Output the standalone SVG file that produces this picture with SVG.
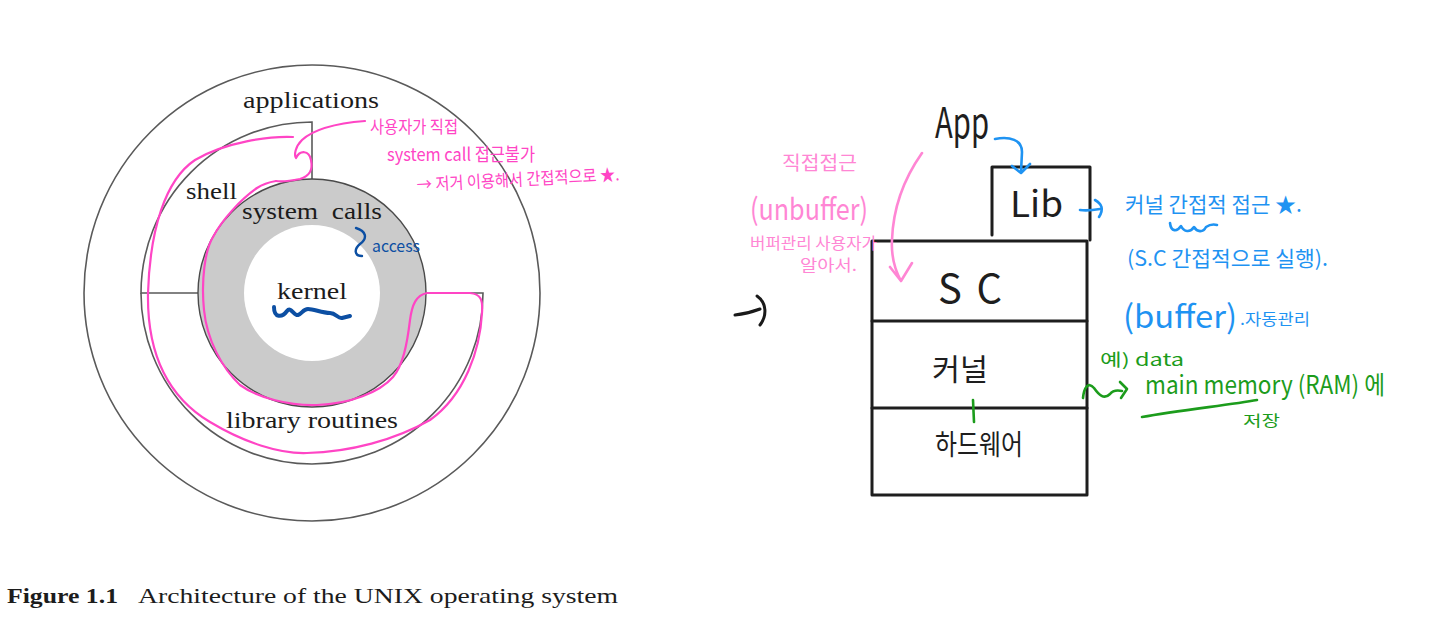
<svg xmlns="http://www.w3.org/2000/svg" width="1448" height="639" viewBox="0 0 1448 639">
<style>
.ring{fill:none;stroke:#5a5a5a;stroke-width:1.6}
.serif{font-family:"Liberation Serif","DejaVu Serif",serif;fill:#1c1c1c}
.hand{font-family:"Noto Sans CJK KR","Noto Sans",sans-serif}
.box{fill:none;stroke:#1e1e1e;stroke-width:3;stroke-linecap:round;stroke-linejoin:round}
.pk{fill:none;stroke:#ff45c5;stroke-width:2.2;stroke-linecap:round;stroke-linejoin:round}
.pkl{fill:none;stroke:#ff86d4;stroke-width:2.6;stroke-linecap:round;stroke-linejoin:round}
.bl{fill:none;stroke:#1f93f2;stroke-width:2.6;stroke-linecap:round;stroke-linejoin:round}
.db{fill:none;stroke:#0c4fa3;stroke-width:2.4;stroke-linecap:round;stroke-linejoin:round}
.thick{stroke-width:4}
.gr{fill:none;stroke:#1c9c1c;stroke-width:2.6;stroke-linecap:round;stroke-linejoin:round}
.bk{fill:none;stroke:#1a1a1a;stroke-width:3;stroke-linecap:round;stroke-linejoin:round}
.tpk{fill:#ff45c5}
.tpkl{fill:#ff86d4}
.tbl{fill:#1f93f2}
.tdb{fill:#0c4fa3}
.tgr{fill:#1c9c1c}
.tbk{fill:#1e1e1e}
</style>

<!-- UNIX architecture figure -->
<g id="applications">
  <circle cx="312" cy="293" r="228" class="ring"/>
  <text x="243" y="108" font-size="24" class="serif" textLength="136" lengthAdjust="spacingAndGlyphs">applications</text>
</g>
<g id="shell">
  <path d="M312,179 V122 A171,171 0 0 0 141,293 H198" class="ring"/>
  <text x="186" y="199" font-size="24" class="serif" textLength="51" lengthAdjust="spacingAndGlyphs">shell</text>
</g>
<g id="library-routines">
  <path d="M141,293 A171,171 0 0 0 483,293 H426" class="ring"/>
  <text x="226" y="428" font-size="24" class="serif" textLength="172" lengthAdjust="spacingAndGlyphs">library routines</text>
</g>
<g id="system-calls">
  <circle cx="312" cy="293" r="114" fill="#cbcbcb" stroke="#4a4a4a" stroke-width="1.4"/>
  <text x="242" y="219" font-size="24" class="serif" textLength="140" lengthAdjust="spacingAndGlyphs" xml:space="preserve">system  calls</text>
</g>
<g id="kernel">
  <circle cx="312" cy="293" r="68" fill="#ffffff"/>
  <text x="277" y="299" font-size="24" class="serif" textLength="70" lengthAdjust="spacingAndGlyphs">kernel</text>
</g>
<g id="caption">
  <text x="7" y="603" font-size="22" class="serif" font-weight="bold" textLength="111" lengthAdjust="spacingAndGlyphs">Figure 1.1</text>
  <text x="138" y="603" font-size="22" class="serif" textLength="480" lengthAdjust="spacingAndGlyphs">Architecture of the UNIX operating system</text>
</g>

<!-- Layer stack -->
<g id="stack-app">
  <text x="935" y="138" font-size="42" class="hand tbk" textLength="54" lengthAdjust="spacingAndGlyphs">App</text>
</g>
<g id="stack-lib">
  <path d="M992,235 V167 H1090 V240" class="box"/>
  <text x="1010" y="217" font-size="36" class="hand tbk" textLength="53" lengthAdjust="spacingAndGlyphs">Lib</text>
</g>
<g id="stack-sc">
  <path d="M872,241 H1087 V321 H872 Z" class="box"/>
  <text x="938" y="303" font-size="40" class="hand tbk" textLength="64" lengthAdjust="spacing">S C</text>
</g>
<g id="stack-kernel">
  <path d="M872,321 V408 H1087 V321" class="box"/>
  <text x="932" y="380" font-size="30" class="hand tbk" textLength="56" lengthAdjust="spacingAndGlyphs">커널</text>
</g>
<g id="stack-hardware">
  <path d="M872,408 V495 H1087 V408" class="box"/>
  <text x="935" y="455" font-size="28" class="hand tbk" textLength="88" lengthAdjust="spacingAndGlyphs">하드웨어</text>
</g>

<!-- Annotations -->
<g id="note-direct">
  <text x="370" y="133" font-size="17" class="hand tpk" textLength="88" lengthAdjust="spacingAndGlyphs">사용자가 직접</text>
  <text x="387" y="161" font-size="18" class="hand tpk" textLength="148" lengthAdjust="spacingAndGlyphs">system call 접근불가</text>
  <text x="417" y="191" font-size="17" class="hand tpk" textLength="203" lengthAdjust="spacingAndGlyphs" transform="rotate(-3 417 191)">→ 저거 이용해서 간접적으로 ★.</text>
</g>
<g id="note-unbuffer">
  <text x="782" y="170" font-size="19" class="hand tpkl" textLength="75" lengthAdjust="spacingAndGlyphs">직접접근</text>
  <text x="750" y="220" font-size="30" class="hand tpkl" textLength="118" lengthAdjust="spacingAndGlyphs">(unbuffer)</text>
  <text x="750" y="249" font-size="16" class="hand tpkl" textLength="127" lengthAdjust="spacingAndGlyphs">버퍼관리 사용자가</text>
  <text x="800" y="271" font-size="16" class="hand tpkl" textLength="57" lengthAdjust="spacingAndGlyphs">알아서.</text>
</g>
<g id="note-indirect">
  <text x="1125" y="212" font-size="21" class="hand tbl" textLength="177" lengthAdjust="spacingAndGlyphs">커널 간접적 접근 ★.</text>
  <path d="M1170,223 C1171,232 1177,232 1181,226 C1184,232 1190,233 1194,227 C1197,232 1203,233 1206,227 C1209,225 1213,224 1217,225" class="bl"/>
  <text x="1127" y="266" font-size="21" class="hand tbl" textLength="201" lengthAdjust="spacingAndGlyphs">(S.C 간접적으로 실행).</text>
  <text x="1123" y="328" font-size="32" class="hand tbl" textLength="114" lengthAdjust="spacingAndGlyphs">(buffer)</text>
  <text x="1240" y="325" font-size="16" class="hand tbl" textLength="70" lengthAdjust="spacingAndGlyphs">.자동관리</text>
</g>
<g id="note-access">
  <path d="M356,228 C366,231 368,238 360,244 C354,249 354,256 362,256" class="db"/>
  <text x="372" y="252" font-size="16" class="hand tdb" textLength="48" lengthAdjust="spacingAndGlyphs">access</text>
  <path d="M274,307 C274,318 282,318 287,311 C291,306 294,316 298,315 C302,314 303,309 308,309 C314,309 322,313 330,313 C336,313 338,319 342,318 L350,316" class="db thick"/>
</g>
<g id="note-memory">
  <text x="1100" y="366" font-size="17" class="hand tgr" textLength="84" lengthAdjust="spacingAndGlyphs">예) data</text>
  <text x="1145" y="394" font-size="25" class="hand tgr" textLength="240" lengthAdjust="spacingAndGlyphs">main memory (RAM) 에</text>
  <path d="M1142,417 C1180,410 1230,405 1257,400" class="gr"/>
  <text x="1243" y="426" font-size="15" class="hand tgr" textLength="37" lengthAdjust="spacingAndGlyphs">저장</text>
</g>

<!-- Connectors -->
<g id="connectors">
  <path d="M365,121 C340,123 315,128 302,140 C295,147 294,155 296,158 C300,150 309,150 311,160 C313,170 310,176 300,179 C290,181 282,182 276,181" class="pk"/>
  <path d="M293,137 C270,136 225,142 195,160 C165,180 150,230 148,293 C147,350 165,395 210,422 C245,443 280,454 307,453 C350,452 395,440 430,420 C465,395 480,350 482,313 C483,300 481,294 470,293 L427,293 C416,295 412,305 410,320 C407,345 403,365 393,377 C380,392 350,404 317,405 C290,406 258,398 240,385 C222,368 207,340 204,310 C201,280 205,250 213,237 C222,220 240,200 257,188 C263,184 270,182 276,181" class="pk"/>
  <path d="M922,153 C903,180 893,210 892,240 C891,258 895,270 901,281 M890,267 L901,281 L912,263" class="pkl"/>
  <path d="M995,139 C1010,136 1022,140 1022,152 L1021,172 M1012,166 L1021,173 L1030,164" class="bl"/>
  <path d="M1080,210 C1088,211 1094,210 1100,209 M1095,200 C1102,204 1104,209 1099,217" class="bl"/>
  <path d="M1083,398 C1084,388 1088,381 1094,388 C1099,395 1104,400 1110,394 C1113,390 1117,390 1122,391 M1120,382 L1127,389 L1121,398" class="gr"/>
  <path d="M973,400 L974,422" class="gr"/>
  <path d="M735,315 C745,314 752,312 760,309 M757,296 C767,303 767,316 760,325" class="bk"/>
</g>
</svg>
